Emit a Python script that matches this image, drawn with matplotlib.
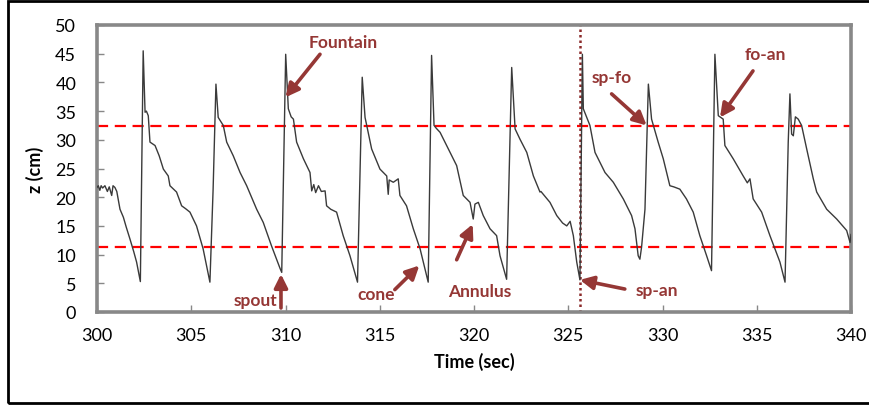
import matplotlib
matplotlib.use("Agg")
import matplotlib.pyplot as plt
from matplotlib.patches import Rectangle

# ---- data ----
time_s = [300.00, 300.07, 300.15, 300.22, 300.30, 300.42, 300.55, 300.65, 300.78, 300.85, 300.95,
          301.05, 301.22, 301.40, 301.55, 301.75, 301.95, 302.10, 302.30,
          302.45, 302.55, 302.62, 302.72, 302.81, 303.08, 303.30, 303.52, 303.78, 303.87, 304.22, 304.49,
          304.70, 304.93, 305.28, 305.63, 305.99,
          306.16, 306.31, 306.43, 306.70, 306.88, 307.23, 307.59, 307.94, 308.20, 308.47, 308.82, 309.26, 309.71, 309.80,
          310.01, 310.15, 310.30, 310.42, 310.59, 310.95, 311.30, 311.39, 311.50, 311.60, 311.75, 311.90, 312.10, 312.18,
          312.40, 312.71, 313.06, 313.42, 313.82,
          314.07, 314.22, 314.57, 315.01, 315.37, 315.45, 315.50, 315.72, 315.98, 316.07, 316.42, 316.78, 317.14, 317.57,
          317.75, 317.88, 318.00, 318.20, 318.55, 319.08, 319.43, 319.79, 319.96, 320.05, 320.23, 320.49, 320.85, 321.20,
          321.38, 321.73,
          322.00, 322.18, 322.44, 322.80, 323.15, 323.50, 323.55, 324.03, 324.39, 324.70, 324.92, 325.10, 325.27, 325.45,
          325.62,
          325.75, 325.80, 326.15, 326.42, 326.95, 327.39, 327.92, 328.36, 328.54, 328.71, 328.80, 328.89, 329.07,
          329.25, 329.42, 329.77, 330.04, 330.39, 330.60, 330.92, 331.27, 331.63, 331.98, 332.34, 332.60,
          332.78, 332.96, 333.22, 333.31, 333.75, 334.28, 334.50, 334.64, 334.81, 335.26, 335.70, 336.23, 336.50,
          336.67, 336.76, 336.85, 336.94, 337.05, 337.20, 337.38, 337.65, 338.00, 338.18, 338.71, 339.24, 339.77, 339.95,
          340.00]
z_cm = [21.7, 22.0, 21.2, 22.0, 21.6, 22.0, 21.0, 21.8, 20.3, 22.0, 21.7,
        21.0, 17.9, 16.5, 14.8, 12.7, 10.5, 8.7, 5.3,
        45.5, 34.8, 35.0, 34.2, 29.6, 29.0, 27.2, 24.9, 23.7, 22.0, 20.9, 18.5,
        18.0, 17.4, 15.0, 11.0, 5.2,
        21.4, 39.7, 33.9, 32.5, 29.6, 27.2, 24.3, 22.0, 20.0, 17.9, 15.6, 11.5, 7.6, 6.9,
        44.9, 35.4, 34.0, 33.6, 29.6, 26.7, 24.3, 21.1, 22.2, 20.8, 22.0, 21.0, 21.1, 18.5,
        17.9, 17.4, 13.3, 9.8, 5.2,
        40.9, 33.9, 28.4, 24.9, 23.7, 20.5, 23.0, 22.6, 23.2, 20.3, 18.5, 14.5, 11.0, 5.2,
        44.7, 32.5, 32.0, 31.3, 29.0, 25.5, 20.3, 19.1, 16.2, 18.8, 19.1, 16.8, 14.5, 13.3,
        9.8, 5.7,
        42.6, 31.9, 30.1, 27.8, 23.7, 20.9, 21.0, 19.1, 16.8, 15.5, 15.0, 15.8, 13.3, 8.7,
        5.6,
        44.9, 35.4, 32.5, 27.8, 24.3, 22.6, 19.7, 16.8, 14.5, 9.8, 9.2, 11.3, 17.9,
        39.7, 33.6, 29.6, 26.7, 22.0, 21.8, 21.4, 19.7, 17.4, 13.3, 9.8, 7.2,
        44.9, 34.2, 33.6, 29.0, 26.7, 23.7, 22.5, 23.2, 19.7, 17.4, 13.3, 8.7, 5.2,
        29.6, 38.0, 31.0, 30.7, 34.0, 33.6, 32.5, 28.4, 23.2, 20.9, 17.9, 16.2, 14.2, 12.1,
        13.5]

upper_line = 32.4
lower_line = 11.3
switch_time = 325.62

x_ticks = [300, 305, 310, 315, 320, 325, 330, 335, 340]
y_ticks = [0, 5, 10, 15, 20, 25, 30, 35, 40, 45, 50]

# annotations: label, text position (t, z), arrow tip (t, z), arrow tail (t, z)
ann_labels = ["Fountain", "spout", "cone", "Annulus", "sp-an", "sp-fo", "fo-an"]
ann_text_xy = [(313.05, 47.0), (308.4, 2.1), (314.8, 3.1), (320.3, 3.7), (329.7, 3.8), (327.3, 40.9), (335.46, 44.9)]
ann_tip_xy = [(310.0, 37.4), (309.76, 6.6), (317.10, 8.1), (319.93, 15.3), (325.62, 5.6), (329.16, 32.5), (333.05, 33.9)]
ann_tail_xy = [(311.83, 44.9), (309.76, 0.7), (315.8, 3.9), (319.08, 9.1), (328.0, 4.0), (327.3, 38.0), (334.8, 42.0)]

# ---- drawing ----
FONT = "Lato"
DARKRED = "#953735"

fig = plt.figure(figsize=(8.69, 4.06), dpi=100)
ax = fig.add_axes([97/869, 1 - 313/406, (851 - 97)/869, (313 - 26)/406])

ax.plot(time_s, z_cm, color="#3a3a3a", lw=1.0, zorder=3)
ax.axhline(upper_line, color="#ff0000", lw=1.6, ls=(0, (5, 3)), zorder=2)
ax.axhline(lower_line, color="#ff0000", lw=1.6, ls=(0, (5, 3)), zorder=2)
ax.axvline(switch_time, color="#8b2a2a", lw=1.8, ls=(0, (1, 1.2)), zorder=2)

ax.set_xlim(300, 340)
ax.set_ylim(0, 50)
ax.set_xticks(x_ticks)
ax.set_yticks(y_ticks)
ax.set_xticklabels([str(v) for v in x_ticks], fontfamily=FONT, fontsize=13)
ax.set_yticklabels([str(v) for v in y_ticks], fontfamily=FONT, fontsize=13)
ax.tick_params(axis="both", direction="in", length=5, width=1, color="#888888")
ax.tick_params(axis="x", pad=11)
ax.tick_params(axis="y", pad=15)
for s in ax.spines.values():
    s.set_color("#888888")
    s.set_linewidth(2.6)

ax.set_xlabel("Time (sec)", fontfamily=FONT, fontsize=13, fontweight="bold", labelpad=6)
ax.set_ylabel("z (cm)", fontfamily=FONT, fontsize=13, fontweight="bold", labelpad=8)

for lab, txy, tip, tail in zip(ann_labels, ann_text_xy, ann_tip_xy, ann_tail_xy):
    ax.text(txy[0], txy[1], lab, color=DARKRED, fontfamily=FONT, fontsize=12.5,
            fontweight="bold", ha="center", va="center", zorder=5)
    ax.annotate("", xy=tip, xytext=tail,
                arrowprops=dict(arrowstyle="-|>,head_length=0.8,head_width=0.4",
                                color=DARKRED, lw=2.6, shrinkA=0, shrinkB=0),
                zorder=5)

fig.patches.append(Rectangle((8/869, 2/406), 1.2, 402/406, transform=fig.transFigure,
                             fill=False, edgecolor="black", lw=2.0))

fig.savefig("out.png", dpi=100)
